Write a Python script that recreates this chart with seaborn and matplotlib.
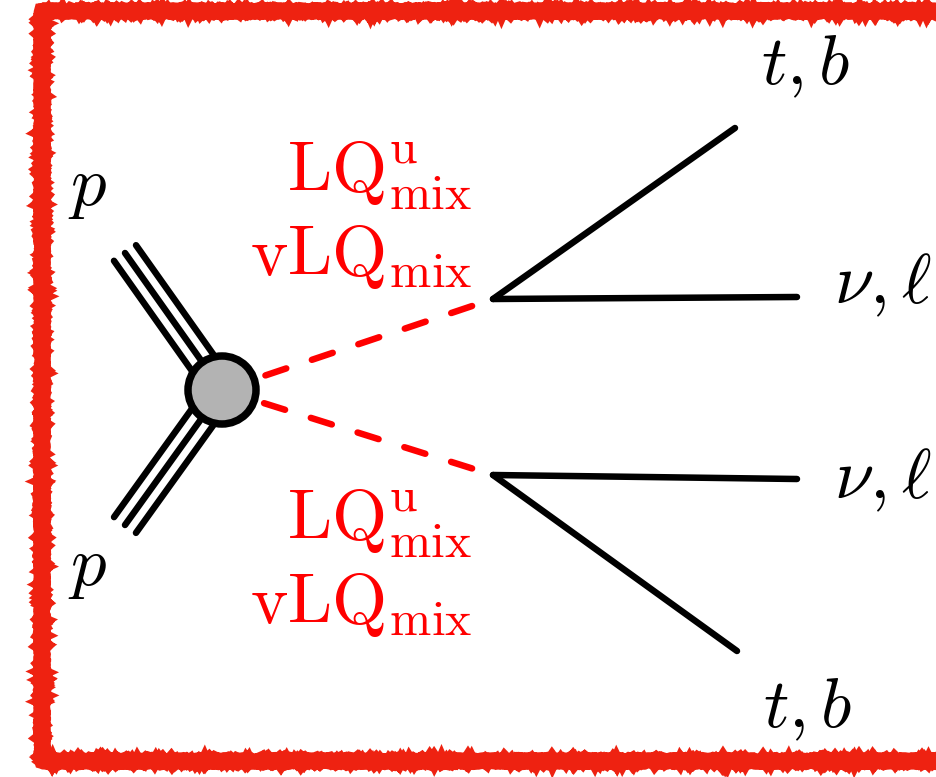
import numpy as np
import pandas as pd
import matplotlib
matplotlib.use("Agg")
import matplotlib.pyplot as plt
import seaborn as sns
from matplotlib.patches import Circle

sns.set_theme(style="white")
plt.rcParams['mathtext.fontset'] = 'cm'
plt.rcParams['font.family'] = ['DejaVu Serif']
plt.rcParams['lines.scale_dashes'] = False

# ---- diagram data (pixel-space nodes) ----
blob_center = (222, 390)
proton_ends_x = [125, 125]
proton_ends_y = [253, 525]
vertex_x = [493, 493]
vertex_y = [299, 475]
out_x = [735, 797, 797, 737]
out_y = [128, 297, 479, 651]
out_parent = [0, 0, 1, 1]

proton_labels = ["$p$", "$p$"]
proton_label_x = [88, 88]
proton_label_y = [205, 585]
out_labels = ["$t, b$", r"$\nu, \ell$", r"$\nu, \ell$", "$t, b$"]
out_label_x = [805, 883, 883, 807]
out_label_y = [84, 303, 498, 727]
lq_labels = [r"$\mathrm{LQ}^{\mathrm{u}}_{\mathrm{mix}}$", r"$\mathrm{vLQ}_{\mathrm{mix}}$",
             r"$\mathrm{LQ}^{\mathrm{u}}_{\mathrm{mix}}$", r"$\mathrm{vLQ}_{\mathrm{mix}}$"]
lq_label_y = [192, 275, 540, 623]

W, H = 937, 777
fig = plt.figure(figsize=(W / 100, H / 100), dpi=100)
ax = fig.add_axes([0, 0, 1, 1])

px = 72 / 100  # points per pixel

# ---- rough red frame ----
fx = [960, 42, 42, 960]
fy = [11, 11, 761, 761]
ln, = ax.plot(fx, fy, color='#ee2211', lw=16 * px, solid_joinstyle='miter',
              solid_capstyle='butt', zorder=1)
ln.set_sketch_params(scale=0.8, length=4, randomness=8)
ln2, = ax.plot(fx, fy, color='#ee2211', lw=13 * px, solid_joinstyle='miter',
               solid_capstyle='butt', zorder=1)
ln2.set_sketch_params(scale=1.2, length=3, randomness=6)

# ---- proton triple lines ----
rows = []
cx, cy = blob_center
for k, (ex, ey) in enumerate(zip(proton_ends_x, proton_ends_y)):
    d = np.array([ex - cx, ey - cy], float)
    d /= np.hypot(*d)
    perp = np.array([-d[1], d[0]])
    for j, off in enumerate([-13.5, 0, 13.5]):
        o = perp * off
        rows.append(dict(x=cx + o[0], y=cy + o[1], u=f"p{k}{j}"))
        rows.append(dict(x=ex + o[0], y=ey + o[1], u=f"p{k}{j}"))
dfp = pd.DataFrame(rows)
sns.lineplot(data=dfp, x='x', y='y', units='u', estimator=None, sort=False,
             color='black', linewidth=6.5 * px, ax=ax, zorder=3, solid_capstyle='round')

# ---- outgoing fermion lines ----
rows = []
for k, (ox, oy, p) in enumerate(zip(out_x, out_y, out_parent)):
    rows.append(dict(x=vertex_x[p], y=vertex_y[p], u=f"o{k}"))
    rows.append(dict(x=ox, y=oy, u=f"o{k}"))
dfo = pd.DataFrame(rows)
sns.lineplot(data=dfo, x='x', y='y', units='u', estimator=None, sort=False,
             color='black', linewidth=6.5 * px, ax=ax, zorder=3, solid_capstyle='round')

# ---- red dashed leptoquark lines ----
for vx, vy in zip(vertex_x, vertex_y):
    ax.plot([vx - 22 * (vx - cx) / 285, cx], [vy - 22 * (vy - cy) / 285, cy],
            color='#ff0000', lw=6.5 * px, dash_capstyle='round',
            dashes=(22 * px, 27 * px), zorder=3)

# ---- blob ----
ax.add_patch(Circle(blob_center, 34, facecolor='#b3b3b3', edgecolor='black',
                    lw=7.5 * px, zorder=5))

# ---- labels ----
fs = 51
for t, x, y in zip(proton_labels, proton_label_x, proton_label_y):
    ax.text(x, y, t, fontsize=fs, ha='center', va='baseline', color='black')
for t, x, y in zip(out_labels, out_label_x, out_label_y):
    ax.text(x, y, t, fontsize=fs, ha='center', va='baseline', color='black')
for t, y in zip(lq_labels, lq_label_y):
    ax.text(472, y, t, fontsize=fs, ha='right', va='baseline', color='#ff0000')

ax.set_xlim(0, W)
ax.set_ylim(H, 0)
ax.set_xlabel('')
ax.set_ylabel('')
ax.axis('off')

fig.savefig('out.png', dpi=100)
